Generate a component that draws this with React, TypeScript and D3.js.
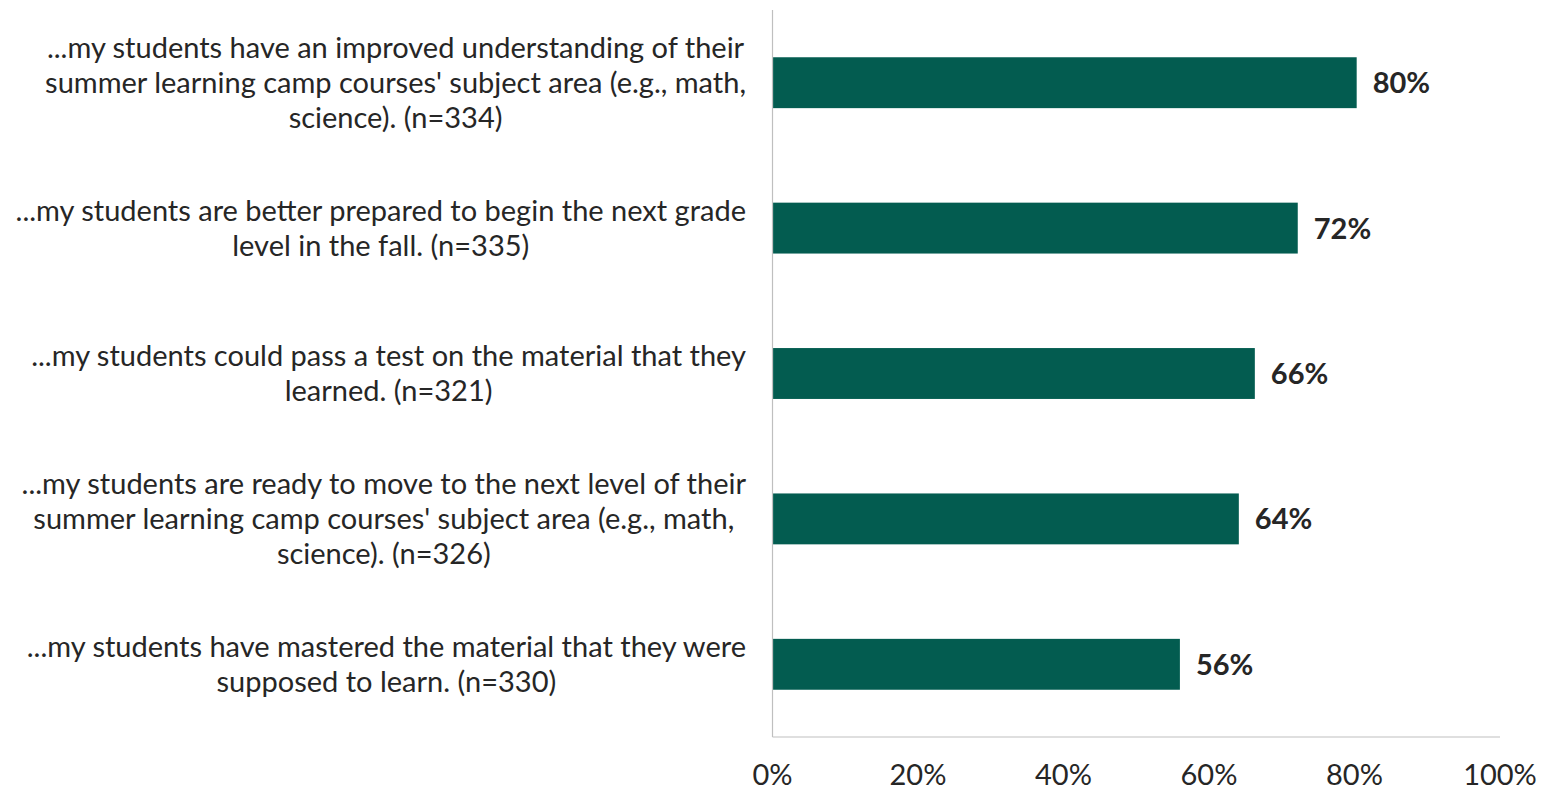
import React, { useEffect, useRef } from "react";
import * as d3 from "d3";

const categories: string[][] = [
  ["...my students have an improved understanding of their", "summer learning camp courses' subject area (e.g., math,", "science). (n=334)"],
  ["...my students are better prepared to begin the next grade", "level in the fall. (n=335)"],
  ["...my students could pass a test on the material that they", "learned. (n=321)"],
  ["...my students are ready to move to the next level of their", "summer learning camp courses' subject area (e.g., math,", "science). (n=326)"],
  ["...my students have mastered the material that they were", "supposed to learn. (n=330)"],
];
const values: number[] = [80.3, 72.2, 66.3, 64.1, 56.0];
const ticks: number[] = [0, 20, 40, 60, 80, 100];

const W = 1549;
const H = 788;
const FONT = "Lato, 'Open Sans', sans-serif";
const TEXT = "#262626";
const BAR = "#035C50";
const FS = 29;

export default function App() {
  const ref = useRef<SVGSVGElement>(null);
  useEffect(() => {
    const svg = d3.select(ref.current);
    svg.selectAll("*").remove();
    const left = 772.5, right = 1500, top = 10, bottom = 737;
    const x = d3.scaleLinear().domain([0, 100]).range([left, right]);
    const y = d3.scaleBand<number>().domain(d3.range(categories.length)).range([top, bottom]).paddingInner(0.65).paddingOuter(0.325);

    svg.append("line").attr("x1", left).attr("x2", left).attr("y1", top).attr("y2", bottom)
      .attr("stroke", "#bfbfbf").attr("stroke-width", 1.2);
    svg.append("line").attr("x1", left).attr("x2", right).attr("y1", bottom).attr("y2", bottom)
      .attr("stroke", "#bfbfbf").attr("stroke-width", 1.2);

    svg.selectAll("rect.bar").data(values).enter().append("rect")
      .attr("x", left + 0.6).attr("y", (_, i) => y(i)!)
      .attr("width", (d) => x(d) - left - 0.6).attr("height", y.bandwidth())
      .attr("fill", BAR);

    svg.selectAll("text.val").data(values).enter().append("text")
      .attr("x", (d) => x(d) + 16).attr("y", (_, i) => y(i)! + y.bandwidth() / 2)
      .attr("dy", "0.36em").attr("font-family", FONT).attr("font-size", FS).attr("font-weight", 700)
      .attr("fill", TEXT).text((d) => `${Math.round(d)}%`);

    svg.selectAll("text.tick").data(ticks).enter().append("text")
      .attr("x", (d) => x(d)).attr("y", 785).attr("text-anchor", "middle")
      .attr("font-family", FONT).attr("font-size", FS).attr("fill", TEXT)
      .text((d) => `${d}%`);

    const lineH = 35;
    const labelRight = 746;
    categories.forEach((lines, i) => {
      const cy = y(i)! + y.bandwidth() / 2;
      const g = svg.append("g");
      const texts = lines.map((ln, j) =>
        g.append("text").attr("y", cy + (j - (lines.length - 1) / 2) * lineH)
          .attr("dy", "0.36em").attr("font-family", FONT).attr("font-size", FS)
          .attr("fill", TEXT).attr("text-anchor", "middle").text(ln)
      );
      const maxW = d3.max(texts, (t) => (t.node() as SVGTextElement).getComputedTextLength()) || 0;
      texts.forEach((t) => t.attr("x", labelRight - maxW / 2));
    });
  }, []);
  return (
    <svg ref={ref} width={W} height={H} style={{ position: "absolute", left: 0, top: 0, background: "#fff" }} />
  );
}
